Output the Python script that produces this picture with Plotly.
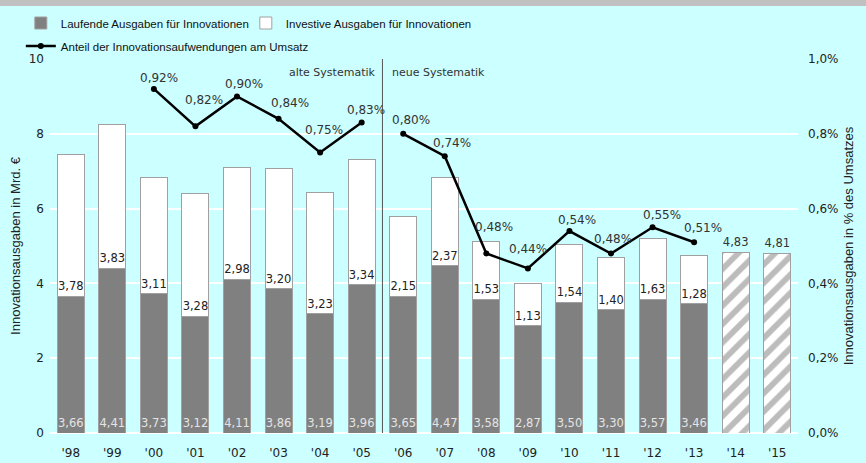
import plotly.graph_objects as go

years = ["'98", "'99", "'00", "'01", "'02", "'03", "'04", "'05", "'06", "'07",
         "'08", "'09", "'10", "'11", "'12", "'13", "'14", "'15"]
laufend = [3.66, 4.41, 3.73, 3.12, 4.11, 3.86, 3.19, 3.96, 3.65, 4.47,
           3.58, 2.87, 3.50, 3.30, 3.57, 3.46, None, None]
investiv = [3.78, 3.83, 3.11, 3.28, 2.98, 3.20, 3.23, 3.34, 2.15, 2.37,
            1.53, 1.13, 1.54, 1.40, 1.63, 1.28, None, None]
planung = [None] * 16 + [4.83, 4.81]

years_alt = ["'00", "'01", "'02", "'03", "'04", "'05"]
anteil_alt = [0.92, 0.82, 0.90, 0.84, 0.75, 0.83]
years_neu = ["'06", "'07", "'08", "'09", "'10", "'11", "'12", "'13"]
anteil_neu = [0.80, 0.74, 0.48, 0.44, 0.54, 0.48, 0.55, 0.51]

# label offsets (px) for the percentage labels: (xshift, yshift)
offs_alt = [(5, 11), (9, 26), (7, 12), (11, 16), (4, 23), (4, 13)]
offs_neu = [(8, 14), (7, 13), (8, 26), (0, 19), (8, 11), (2, 14), (9, 12), (9, 14)]

BG = "#ccffff"
FONT = "DejaVu Sans"
LEG_FONT = "Liberation Sans Narrow, Liberation Sans, Arial"


def de(v, nd=2):
    return None if v is None else f"{v:.{nd}f}".replace(".", ",")


fig = go.Figure()

fig.add_trace(go.Bar(
    x=years, y=laufend, name="Laufende Ausgaben für Innovationen",
    marker=dict(color="#808080", line=dict(color="#a0a0a0", width=1)),
    text=[de(v) for v in laufend], textposition="inside", insidetextanchor="start",
    textfont=dict(family=FONT, size=11.5, color="#e4e4e4"), textangle=0,
    constraintext="none", width=0.65, legend="legend", hoverinfo="skip"))

fig.add_trace(go.Bar(
    x=years, y=investiv, name="Investive Ausgaben für Innovationen",
    marker=dict(color="#ffffff", line=dict(color="#a0a0a0", width=1)),
    text=[de(v) for v in investiv], textposition="inside", insidetextanchor="start",
    textfont=dict(family=FONT, size=11.5, color="#222222"), textangle=0,
    constraintext="none", width=0.65, legend="legend", hoverinfo="skip"))

fig.add_trace(go.Bar(
    x=years, y=planung, name="Planung", showlegend=False,
    marker=dict(color="#ffffff", line=dict(color="#a0a0a0", width=1),
                pattern=dict(shape="/", fgcolor="#7a7a7a", bgcolor="#ffffff",
                             size=13, solidity=0.45)),
    text=[de(v) for v in planung], textposition="outside",
    textfont=dict(family=FONT, size=11.5, color="#333333"), textangle=0,
    constraintext="none", cliponaxis=False, width=0.65, hoverinfo="skip"))

line_style = dict(color="black", width=2.5)
marker_style = dict(color="black", size=6, symbol="circle")
fig.add_trace(go.Scatter(
    x=years_alt, y=anteil_alt, yaxis="y2", mode="lines+markers",
    name="Anteil der Innovationsaufwendungen am Umsatz", legendgroup="anteil",
    line=line_style, marker=marker_style, legend="legend2", hoverinfo="skip"))
fig.add_trace(go.Scatter(
    x=years_neu, y=anteil_neu, yaxis="y2", mode="lines+markers",
    name="Anteil der Innovationsaufwendungen am Umsatz", legendgroup="anteil",
    showlegend=False, line=line_style, marker=marker_style, hoverinfo="skip"))

annotations = []
for xs, ys, offs in ((years_alt, anteil_alt, offs_alt), (years_neu, anteil_neu, offs_neu)):
    for xv, yv, (dx, dy) in zip(xs, ys, offs):
        annotations.append(dict(
            x=xv, y=yv, xref="x", yref="y2", text=de(yv) + "%", showarrow=False,
            xanchor="center", yanchor="middle", xshift=dx, yshift=dy,
            font=dict(family=FONT, size=12, color="#333333")))

annotations.append(dict(x=7.5, y=9.65, xref="x", yref="y", text="alte Systematik",
                        showarrow=False, xanchor="right", xshift=-4,
                        font=dict(family=FONT, size=11, color="#333333")))
annotations.append(dict(x=7.5, y=9.65, xref="x", yref="y", text="neue Systematik",
                        showarrow=False, xanchor="left", xshift=8,
                        font=dict(family=FONT, size=11, color="#333333")))

shapes = [
    dict(type="line", xref="x", yref="paper", x0=7.5, x1=7.5, y0=0, y1=1,
         line=dict(color="#555555", width=1)),
    dict(type="rect", xref="paper", yref="paper", x0=-0.1, x1=1.2,
         y0=(374 + 53) / 374, y1=(374 + 62) / 374, fillcolor="#c0c0c0",
         line=dict(width=0), layer="above"),
]

fig.update_layout(
    width=866, height=463,
    margin=dict(l=50, r=68, t=59, b=30, autoexpand=False),
    paper_bgcolor=BG, plot_bgcolor=BG,
    barmode="stack", bargap=0.35,
    separators=",.",
    font=dict(family=FONT, size=12, color="#222222"),
    xaxis=dict(type="category", categoryorder="array", categoryarray=years,
               showgrid=False, zeroline=False, showline=False, ticks="",
               tickfont=dict(family=FONT, size=12, color="#222222"),
               ticklabelstandoff=11, automargin=False),
    yaxis=dict(range=[0, 10], dtick=2, showgrid=True, gridcolor="#ffffff",
               gridwidth=1.5, zeroline=True, zerolinecolor="#ffffff", zerolinewidth=1.5,
               showline=False, ticks="", automargin=False, ticklabelstandoff=5,
               tickfont=dict(family=FONT, size=12, color="#222222"),
               title=dict(text="Innovationsausgaben in Mrd. €", standoff=5,
                          font=dict(family="Liberation Sans, Arial", size=13, color="#222222"))),
    yaxis2=dict(range=[0, 1.0], dtick=0.2, overlaying="y", side="right",
                showgrid=False, zeroline=False, showline=False, ticks="",
                tickformat=".1f", ticksuffix="%", automargin=False,
                tickfont=dict(family=FONT, size=12, color="#222222"),
                ticklabelstandoff=9,
                title=dict(text="Innovationsausgaben in % des Umsatzes", standoff=6,
                           font=dict(family="Liberation Sans, Arial", size=13, color="#222222"))),
    legend=dict(orientation="h", x=-0.039, xanchor="left", y=(374 + 36) / 374,
                yanchor="middle", traceorder="normal",
                bgcolor="rgba(0,0,0,0)", entrywidth=180, entrywidthmode="pixels",
                font=dict(family=LEG_FONT, size=11.5, color="#111111"),
                itemclick=False, itemdoubleclick=False),
    legend2=dict(orientation="h", x=-0.039, xanchor="left", y=(374 + 13) / 374,
                 yanchor="middle",
                 bgcolor="rgba(0,0,0,0)",
                 font=dict(family=LEG_FONT, size=11.5, color="#111111"),
                 itemclick=False, itemdoubleclick=False),
    annotations=annotations,
    shapes=shapes,
    showlegend=True,
)

fig.write_html("out.html", config={"displayModeBar": False},
               post_script="document.body.style.margin='0';")
